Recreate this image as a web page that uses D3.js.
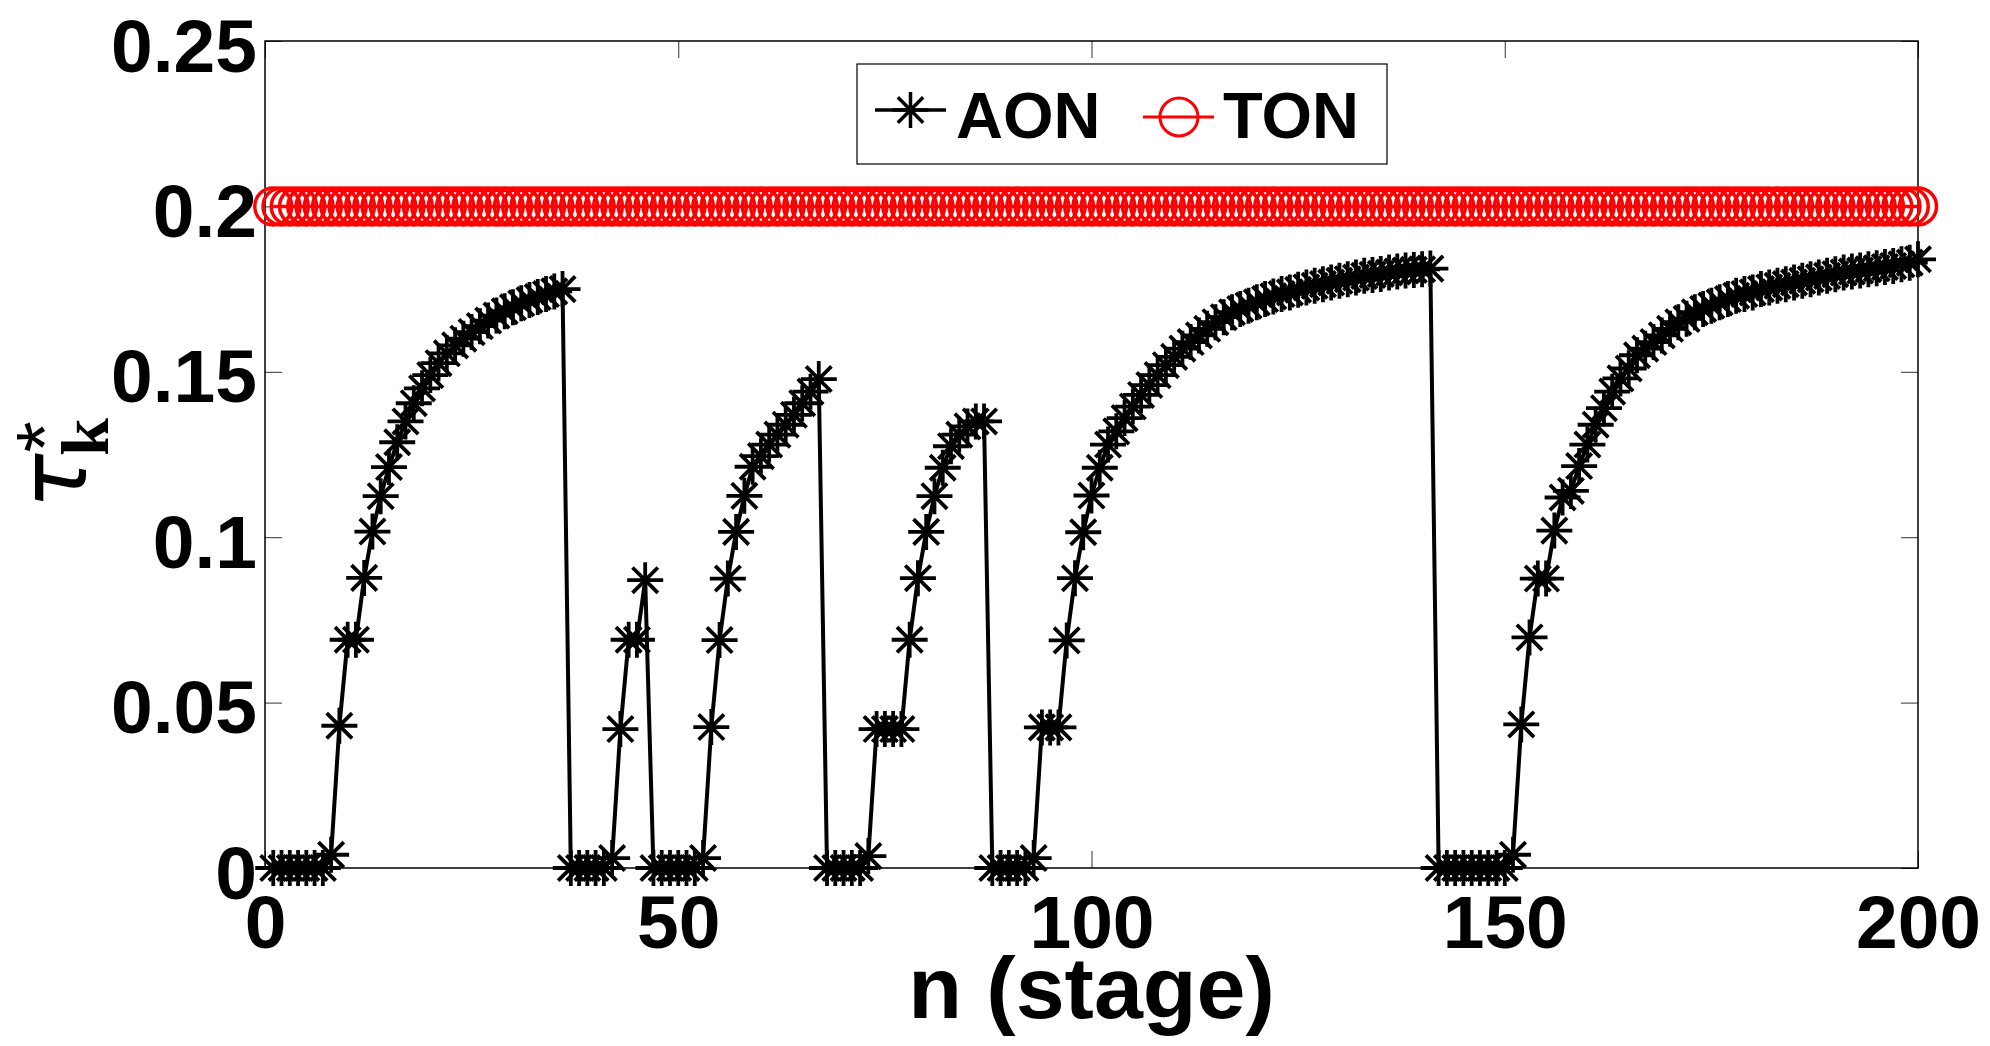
<!DOCTYPE html>
<html>
<head>
<meta charset="utf-8">
<script src="https://cdn.jsdelivr.net/npm/d3@7"></script>
<style>
  html, body { margin: 0; padding: 0; background: #fff; }
  svg { display: block; }
</style>
</head>
<body>
<div id="chart"></div>
<script>
// stage index 1..200
const stages = d3.range(1, 201)

const aonValues = [
  0, 0, 0, 0, 0, 0, 0, 0.004,
  0.043, 0.069, 0.069, 0.0877, 0.1017, 0.1124, 0.1212, 0.1287, 0.135, 0.1405,
  0.145, 0.149, 0.1526, 0.1556, 0.158, 0.160, 0.162, 0.1638, 0.1655, 0.167,
  0.1683, 0.1695, 0.1707, 0.1717, 0.1726, 0.1735, 0.1743, 0.175,
  0, 0, 0, 0, 0, 0.003,
  0.042, 0.069, 0.069, 0.087,
  0, 0, 0, 0, 0, 0, 0.003,
  0.0426, 0.0689, 0.0875, 0.1016, 0.1125, 0.1213, 0.1245, 0.128, 0.131, 0.134,
  0.137, 0.1405, 0.144, 0.1478,
  0, 0, 0, 0, 0, 0.0036,
  0.042, 0.042, 0.042, 0.042, 0.069, 0.0876, 0.1016, 0.1124, 0.121, 0.1275,
  0.131, 0.1335, 0.135, 0.135,
  0, 0, 0, 0, 0, 0.003,
  0.0425, 0.0425, 0.0425, 0.0688, 0.0876, 0.1015, 0.1126, 0.121, 0.128, 0.132,
  0.136, 0.1395, 0.143, 0.146, 0.149, 0.152, 0.1545, 0.157, 0.159, 0.161,
  0.163, 0.165, 0.1665, 0.168, 0.169, 0.170, 0.171, 0.172, 0.1728, 0.1735,
  0.174, 0.1748, 0.1755, 0.176, 0.1765, 0.177, 0.1775, 0.178, 0.1785, 0.179,
  0.1793, 0.1796, 0.180, 0.1803, 0.1806, 0.1808, 0.181, 0.1812,
  0, 0, 0, 0, 0, 0, 0, 0, 0, 0.004,
  0.0434, 0.0697, 0.0875, 0.0875, 0.102, 0.112, 0.114, 0.1215, 0.128, 0.134,
  0.139, 0.144, 0.148, 0.151, 0.155, 0.157, 0.159, 0.161, 0.163, 0.165,
  0.166, 0.168, 0.169, 0.170, 0.171, 0.172, 0.173, 0.1735, 0.174, 0.175,
  0.1755, 0.176, 0.1765, 0.177, 0.1775, 0.178, 0.1785, 0.179, 0.1795, 0.180,
  0.1803, 0.1806, 0.181, 0.1813, 0.1817, 0.182, 0.1825, 0.183, 0.184
]

const tonValues = [
  0.2, 0.2, 0.2, 0.2, 0.2, 0.2, 0.2, 0.2, 0.2, 0.2, 0.2, 0.2, 0.2, 0.2, 0.2, 0.2, 0.2, 0.2, 0.2, 0.2,
  0.2, 0.2, 0.2, 0.2, 0.2, 0.2, 0.2, 0.2, 0.2, 0.2, 0.2, 0.2, 0.2, 0.2, 0.2, 0.2, 0.2, 0.2, 0.2, 0.2,
  0.2, 0.2, 0.2, 0.2, 0.2, 0.2, 0.2, 0.2, 0.2, 0.2, 0.2, 0.2, 0.2, 0.2, 0.2, 0.2, 0.2, 0.2, 0.2, 0.2,
  0.2, 0.2, 0.2, 0.2, 0.2, 0.2, 0.2, 0.2, 0.2, 0.2, 0.2, 0.2, 0.2, 0.2, 0.2, 0.2, 0.2, 0.2, 0.2, 0.2,
  0.2, 0.2, 0.2, 0.2, 0.2, 0.2, 0.2, 0.2, 0.2, 0.2, 0.2, 0.2, 0.2, 0.2, 0.2, 0.2, 0.2, 0.2, 0.2, 0.2,
  0.2, 0.2, 0.2, 0.2, 0.2, 0.2, 0.2, 0.2, 0.2, 0.2, 0.2, 0.2, 0.2, 0.2, 0.2, 0.2, 0.2, 0.2, 0.2, 0.2,
  0.2, 0.2, 0.2, 0.2, 0.2, 0.2, 0.2, 0.2, 0.2, 0.2, 0.2, 0.2, 0.2, 0.2, 0.2, 0.2, 0.2, 0.2, 0.2, 0.2,
  0.2, 0.2, 0.2, 0.2, 0.2, 0.2, 0.2, 0.2, 0.2, 0.2, 0.2, 0.2, 0.2, 0.2, 0.2, 0.2, 0.2, 0.2, 0.2, 0.2,
  0.2, 0.2, 0.2, 0.2, 0.2, 0.2, 0.2, 0.2, 0.2, 0.2, 0.2, 0.2, 0.2, 0.2, 0.2, 0.2, 0.2, 0.2, 0.2, 0.2,
  0.2, 0.2, 0.2, 0.2, 0.2, 0.2, 0.2, 0.2, 0.2, 0.2, 0.2, 0.2, 0.2, 0.2, 0.2, 0.2, 0.2, 0.2, 0.2, 0.2
]

const xTicks = [0, 50, 100, 150, 200]
const yTicks = [0, 0.05, 0.1, 0.15, 0.2, 0.25]
const yTickLabels = ['0', '0.05', '0.1', '0.15', '0.2', '0.25']
const seriesNames = ['AON', 'TON']

const width = 1990
const height = 1046
const margin = { top: 41, right: 72, bottom: 178, left: 265 }
const tickFont = '"Liberation Sans", Arial, Helvetica, sans-serif'

const svg = d3.select('#chart')
  .append('svg')
  .attr('width', width)
  .attr('height', height)
  .attr('viewBox', [0, 0, width, height].join(' '))

const x = d3.scaleLinear()
  .domain([0, 200])
  .range([margin.left, width - margin.right])

const y = d3.scaleLinear()
  .domain([0, 0.25])
  .range([height - margin.bottom, margin.top])

// asterisk marker, like matlab '*'
const starPath = 'M-18,0H18M0,-18V18M-12.7,-12.7L12.7,12.7M-12.7,12.7L12.7,-12.7'

// axes, ticks pointing inward
const axes = svg.append('g').attr('class', 'axes')

axes.append('g')
  .attr('transform', `translate(0,${y(0)})`)
  .call(d3.axisBottom(x).tickValues(xTicks).tickSizeInner(-17).tickSizeOuter(0).tickPadding(27))
  .call(g => g.select('.domain').remove())
  .call(g => g.selectAll('.tick line').attr('stroke', '#333'))
  .call(g => g.selectAll('.tick text')
    .attr('font-family', tickFont)
    .attr('font-weight', 'bold')
    .attr('font-size', 75)
    .attr('fill', '#000'))

axes.append('g')
  .attr('transform', `translate(0,${y(0.25)})`)
  .call(d3.axisTop(x).tickValues(xTicks).tickSizeInner(-17).tickSizeOuter(0).tickFormat(''))
  .call(g => g.select('.domain').remove())
  .call(g => g.selectAll('.tick line').attr('stroke', '#333'))

axes.append('g')
  .attr('transform', `translate(${x(0)},0)`)
  .call(d3.axisLeft(y).tickValues(yTicks).tickSizeInner(-17).tickSizeOuter(0).tickPadding(8)
    .tickFormat((d, i) => yTickLabels[i]))
  .call(g => g.select('.domain').remove())
  .call(g => g.selectAll('.tick line').attr('stroke', '#333'))
  .call(g => g.selectAll('.tick text')
    .attr('font-family', tickFont)
    .attr('font-weight', 'bold')
    .attr('font-size', 75)
    .attr('dy', '0.4em')
    .attr('fill', '#000'))

axes.append('g')
  .attr('transform', `translate(${x(200)},0)`)
  .call(d3.axisRight(y).tickValues(yTicks).tickSizeInner(-17).tickSizeOuter(0).tickFormat(''))
  .call(g => g.select('.domain').remove())
  .call(g => g.selectAll('.tick line').attr('stroke', '#333'))

axes.append('rect')
  .attr('x', x(0))
  .attr('y', y(0.25))
  .attr('width', x(200) - x(0))
  .attr('height', y(0) - y(0.25))
  .attr('fill', 'none')
  .attr('stroke', '#000')
  .attr('stroke-width', 1.5)

// AON
const aon = stages.map((n, i) => ({ n, v: aonValues[i] }))
const ton = stages.map((n, i) => ({ n, v: tonValues[i] }))

const line = d3.line()
  .x(d => x(d.n))
  .y(d => y(d.v))

svg.append('path')
  .datum(aon)
  .attr('fill', 'none')
  .attr('stroke', '#000')
  .attr('stroke-width', 4)
  .attr('stroke-linejoin', 'round')
  .attr('d', line)

svg.append('g')
  .attr('class', 'aon-marks')
  .selectAll('path')
  .data(aon)
  .join('path')
  .attr('transform', d => `translate(${x(d.n)},${y(d.v)})`)
  .attr('d', starPath)
  .attr('fill', 'none')
  .attr('stroke', '#000')
  .attr('stroke-width', 3.8)

// TON
svg.append('path')
  .datum(ton)
  .attr('fill', 'none')
  .attr('stroke', '#ff0000')
  .attr('stroke-width', 3.5)
  .attr('d', line)

svg.append('g')
  .attr('class', 'ton-marks')
  .selectAll('circle')
  .data(ton)
  .join('circle')
  .attr('cx', d => x(d.n))
  .attr('cy', d => y(d.v))
  .attr('r', 18.5)
  .attr('fill', 'none')
  .attr('stroke', '#ff0000')
  .attr('stroke-width', 3.5)

// legend
const legend = svg.append('g').attr('class', 'legend')

legend.append('rect')
  .attr('x', 857)
  .attr('y', 64)
  .attr('width', 530)
  .attr('height', 100)
  .attr('fill', '#fff')
  .attr('stroke', '#000')
  .attr('stroke-width', 1.2)

legend.append('line')
  .attr('x1', 875).attr('x2', 946)
  .attr('y1', 110).attr('y2', 110)
  .attr('stroke', '#000')
  .attr('stroke-width', 3.5)
legend.append('path')
  .attr('transform', 'translate(910.5,110)')
  .attr('d', starPath)
  .attr('fill', 'none')
  .attr('stroke', '#000')
  .attr('stroke-width', 3.5)

legend.append('line')
  .attr('x1', 1143).attr('x2', 1214)
  .attr('y1', 117).attr('y2', 117)
  .attr('stroke', '#ff0000')
  .attr('stroke-width', 3)
legend.append('circle')
  .attr('cx', 1179).attr('cy', 117)
  .attr('r', 19)
  .attr('fill', 'none')
  .attr('stroke', '#ff0000')
  .attr('stroke-width', 3)

legend.selectAll('text')
  .data(seriesNames)
  .join('text')
  .attr('x', (d, i) => i === 0 ? 956 : 1223)
  .attr('y', 138)
  .attr('font-family', tickFont)
  .attr('font-weight', 'bold')
  .attr('font-size', 65)
  .attr('fill', '#000')
  .text(d => d)

// x label
svg.append('text')
  .attr('x', (x(0) + x(200)) / 2)
  .attr('y', 1018)
  .attr('text-anchor', 'middle')
  .attr('font-family', tickFont)
  .attr('font-weight', 'bold')
  .attr('font-size', 88)
  .attr('fill', '#000')
  .text('n (stage)')

// y label: tau*_k, rotated
const yLabel = svg.append('g')
  .attr('transform', 'translate(86,459) rotate(-90)')

yLabel.append('text')
  .attr('x', -50)
  .attr('y', 0)
  .attr('font-family', '"DejaVu Sans", sans-serif')
  .attr('font-style', 'italic')
  .attr('font-size', 92)
  .attr('fill', '#000')
  .text('τ')

yLabel.append('text')
  .attr('x', 22)
  .attr('y', -14)
  .attr('text-anchor', 'middle')
  .attr('font-family', tickFont)
  .attr('font-size', 80)
  .attr('fill', '#000')
  .text('*')

yLabel.append('text')
  .attr('x', 22)
  .attr('y', 22)
  .attr('text-anchor', 'middle')
  .attr('font-family', '"Liberation Serif", "Times New Roman", serif')
  .attr('font-weight', 'bold')
  .attr('font-size', 68)
  .attr('fill', '#000')
  .text('k')
</script>
</body>
</html>
